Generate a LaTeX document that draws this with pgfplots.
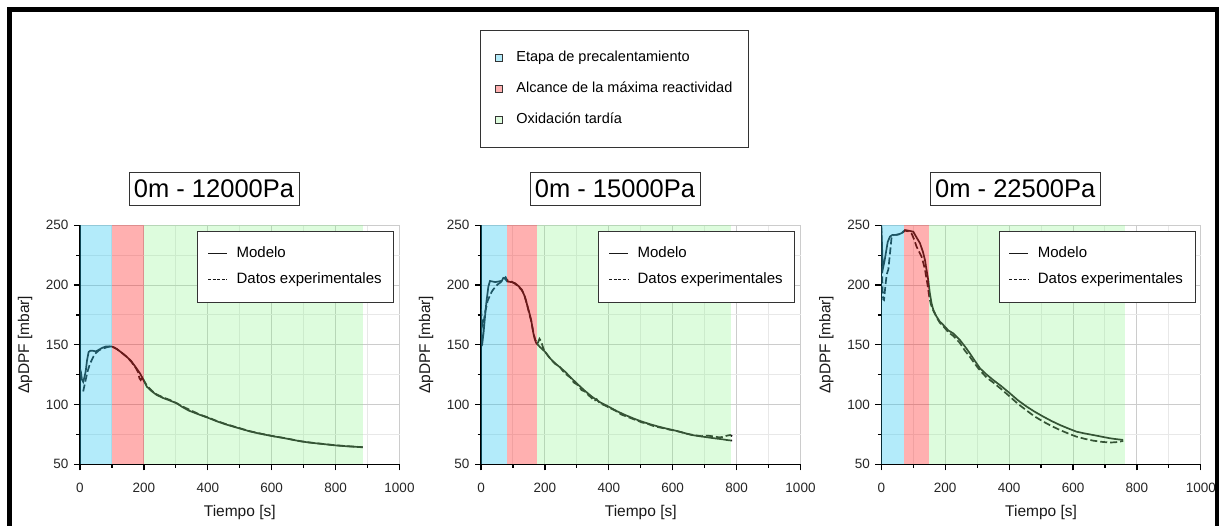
\documentclass[border=0pt]{standalone}
\usepackage{fontspec}
\setmainfont{Liberation Sans}
\usepackage{pgfplots}
\pgfplotsset{compat=1.18}

\definecolor{regblue}{RGB}{38,198,241}
\definecolor{regred}{RGB}{255,29,29}
\definecolor{reggreen}{RGB}{130,244,130}
\definecolor{appblue}{RGB}{179,235,250}
\definecolor{appred}{RGB}{255,176,176}
\definecolor{appgreen}{RGB}{221,252,221}

\pgfplotsset{
 dpfaxis/.style={
   scale only axis, width=319.5bp, height=239bp, anchor=south west,
   xmin=0, xmax=1000, ymin=50, ymax=250,
   xtick={0,200,...,1000}, minor xtick={100,300,...,900},
   ytick={50,100,...,250}, minor ytick={75,125,...,225},
   grid=both,
   major grid style={line width=1bp, color=black!20},
   minor grid style={line width=1bp, color=black!9},
   axis x line*=bottom, axis y line*=left,
   x axis line style={-}, y axis line style={-},
   axis line style={line width=1.5bp, black},
   tick style={line width=1.2bp, black},
   tick align=outside, major tick length=6bp, minor tick length=3.5bp,
   /pgf/number format/assume math mode=true,
   /pgf/number format/1000 sep={},
   tick label style={font=\fontsize{13.5bp}{15bp}\selectfont, text=black!85},
   xticklabel style={yshift=-9bp}, yticklabel style={xshift=-2bp},
   xlabel={Tiempo [s]}, ylabel={ΔpDPF [mbar]},
   label style={font=\fontsize{15.5bp}{18bp}\selectfont, text=black!90},
   xlabel style={at={(axis description cs:0.5,-0.2)}, anchor=center},
   ylabel style={at={(axis description cs:-0.172,0.5)}, anchor=center},
   title style={at={(axis description cs:0.4194,1.127)}, anchor=center, draw=black!80, fill=white, line width=0.8bp,
     font=\fontsize{25.5bp}{30bp}\selectfont, minimum height=33bp, inner xsep=5bp},
   legend style={at={(axis description cs:0.983,0.976)}, anchor=north east, draw=black!80, line width=0.8bp,
     font=\fontsize{15bp}{18bp}\selectfont, inner xsep=10bp, inner ysep=13.5bp, row sep=8bp, column sep=7bp,
     nodes={inner sep=2bp, text height=11bp, text depth=3bp}},
   legend cell align=left,
 },
 model/.style={black!90, line width=1.7bp, solid, no markers,
   legend image code/.code={\draw[black!90, line width=1bp] (0bp,0bp) -- (19bp,0bp);}},
 exper/.style={black!90, line width=1.7bp, dash pattern=on 7bp off 3bp, no markers,
   legend image code/.code={\draw[black!90, line width=1bp, dash pattern=on 3bp off 1.6bp] (0bp,0bp) -- (19bp,0bp);}},
 regb/.style={draw=none, fill=regblue, fill opacity=0.35, forget plot},
 regr/.style={draw=none, fill=regred, fill opacity=0.35, forget plot},
 regg/.style={draw=none, fill=reggreen, fill opacity=0.27, forget plot},
}

\begin{document}
\begin{tikzpicture}
\useasboundingbox (0bp,0bp) rectangle (1219bp,526bp);

% ---------------- panel 1 ----------------
\begin{axis}[dpfaxis, at={(80bp,61.7bp)}, title={0m - 12000Pa}]
\addplot[model] coordinates {
(0,130) (3,127) (6,121) (10,119) (14,123) (18,128) (22,137) (27,144) (32,145) (40,145) (50,144.5)
(60,146) (70,147.5) (80,148.5) (90,148.5) (100,148.5) (115,146.5) (130,143.5) (146,140) (160,136.5)
(175,131) (188,126) (200,120) (209,115) (225,111) (240,108) (260,105.5) (280,103.5) (303,101)
(320,98) (340,95) (376,91.3) (400,89) (428,86) (455,83.5) (480,81.5) (510,79.2) (532,77.5)
(560,75.8) (585,74.5) (610,73.2) (637,72) (660,70.8) (689,69.3) (715,68.3) (741,67.5) (770,66.7)
(793,66) (820,65.4) (846,64.9) (870,64.5) (885,64.2)};
\addlegendentry{Modelo}
\addplot[exper] coordinates {
(10,111) (14,116) (18,121) (24,128) (31,134) (40,139) (47,142.5) (60,145.5) (73,147) (85,148)
(99,149) (115,146.5) (130,143.5) (146,140) (160,136) (175,130.5) (182,127) (186,122) (190,120.5)
(195,123) (200,120) (209,116) (225,111.5) (240,108.5) (260,106) (280,104) (300,101.5) (320,98.5)
(340,96) (376,91.5) (400,89.3) (428,86.3) (455,83.8) (480,81.8) (510,79.4) (532,77.7) (560,76)
(585,74.6) (610,73.3) (637,72.1) (660,70.9) (689,69.4) (715,68.4) (741,67.6) (770,66.8) (793,66.1)
(820,65.5) (846,65) (870,64.6) (885,64.3)};
\addlegendentry{Datos experimentales}
\addplot[regb] coordinates {(0,50) (0,250) (100,250) (100,50)} -- cycle;
\addplot[regr] coordinates {(100,50) (100,250) (200,250) (200,50)} -- cycle;
\addplot[regg] coordinates {(200,50) (200,250) (887,250) (887,50)} -- cycle;
\end{axis}

% ---------------- panel 2 ----------------
\begin{axis}[dpfaxis, at={(481bp,61.7bp)}, title={0m - 15000Pa}]
\addplot[model] coordinates {
(0,174) (1,160) (2,152) (4,151) (8,160) (12.5,173.5) (17,186) (23,198.6) (28,203.4) (35,203)
(45,202.5) (55,203) (65,203.5) (70,206) (75,205.5) (82,203) (95,202.5) (107,201.5) (118,199)
(128,196) (136,191) (143,184.7) (150,178) (157,170.8) (164,159.6) (168,155) (172,151.8) (177,150.3)
(185,148) (200,144.3) (215,139) (232,134.5) (248,131) (263,127.5) (285,121.5) (305,116.4)
(325,111.5) (347,106.6) (372,102) (399,98.3) (425,94.5) (451,91.3) (478,88.3) (504,85.7)
(530,83.5) (556,81.5) (582,79.8) (608,78.2) (635,76.3) (660,74.5) (687,73.4) (713,72.4)
(735,71.6) (754,71) (770,70.3) (786,69.8)};
\addlegendentry{Modelo}
\addplot[exper] coordinates {
(0,180) (3,170) (6,166) (9,170) (12.5,177) (17,182) (21,187) (26,190) (30,192.5) (35,195)
(39,196.5) (45,198.5) (52,200.5) (60,202) (70,204.5) (77,206.5) (82,204) (95,203) (107,201)
(118,198.5) (128,195.5) (136,191.5) (143,185) (150,177) (157,170) (164,160) (170,154) (177,151)
(183,155) (188,153) (195,147) (205,142.5) (220,137.5) (232,134) (245,132) (255,128.5) (263,126)
(280,122.5) (290,118.5) (305,116) (315,112) (325,111) (340,107) (355,103) (362,104.5) (372,101)
(390,99) (400,97.5) (420,95) (440,91.5) (451,90.5) (470,88.5) (490,86.5) (504,85) (520,84)
(540,82) (556,81) (575,80) (590,79) (608,78.2) (625,77) (645,75.5) (665,74.5) (690,73.5)
(705,74) (715,73.8) (730,73.3) (745,72.5) (760,73) (770,74) (780,74.5) (786,73.5)};
\addlegendentry{Datos experimentales}
\addplot[regb] coordinates {(0,50) (0,250) (82,250) (82,50)} -- cycle;
\addplot[regr] coordinates {(82,50) (82,250) (175,250) (175,50)} -- cycle;
\addplot[regg] coordinates {(175,50) (175,250) (783,250) (783,50)} -- cycle;
\end{axis}

% ---------------- panel 3 ----------------
\begin{axis}[dpfaxis, at={(881.3bp,61.7bp)}, title={0m - 22500Pa}]
\addplot[model] coordinates {
(0,250) (2,235) (4,218) (6,215) (10,220) (15,228) (20,236) (27,240.5) (35,242) (45,242)
(55,242.5) (64,243.5) (74,246) (85,245.5) (100,244.7) (110,240) (121,235) (130,228) (136.6,221)
(142,212) (147,204) (152,193) (157,185) (163,179) (173,173.6) (183,169.5) (194,166.6) (210,162)
(225,159.6) (246,154) (262,148.5) (277,142.9) (293,136.5) (309,130.3) (330,125) (350,120.6)
(375,115.5) (402.5,109.4) (428,103.5) (455,98.3) (480,94) (507,89.9) (533,86.2) (559,82.9)
(585,80) (611,77.3) (637,75.8) (663,74.5) (690,73.1) (715,71.8) (737,71) (757,70.4)};
\addlegendentry{Modelo}
\addplot[exper] coordinates {
(0,249) (2,220) (4,195) (6,188) (8.5,187.5) (13,200) (17,209) (22,213) (27,226) (32.5,241)
(40,242) (48,242) (56,242.5) (64,243.3) (74,245.5) (85,245) (95,243) (103,238) (110.5,232)
(118,228) (126,223.8) (132,218) (137,212.6) (141,206) (144,201.5) (147,196) (150,190.3)
(155,184) (163,178.5) (173,173) (183,168.5) (194,165.5) (210,160.5) (225,157.5) (246,151.5)
(262,145) (277,140) (293,134) (309,128.5) (330,122.5) (350,118.5) (375,113) (402.5,106.6)
(428,100.5) (455,95) (480,90) (507,85.7) (533,82) (559,78.7) (585,75.8) (611,73.1) (637,71.3)
(663,69.8) (690,68.8) (715,68.2) (735,68.5) (757,69.5)};
\addlegendentry{Datos experimentales}
\addplot[regb] coordinates {(0,50) (0,250) (72,250) (72,50)} -- cycle;
\addplot[regr] coordinates {(72,50) (72,250) (149,250) (149,50)} -- cycle;
\addplot[regg] coordinates {(149,50) (149,250) (762,250) (762,50)} -- cycle;
\end{axis}

% ---------------- stage legend ----------------
\begin{axis}[at={(482bp,379bp)}, anchor=south west, scale only axis, width=265bp, height=117bp,
  hide axis, xmin=0, xmax=1, ymin=0, ymax=1,
  legend style={at={(0.5,0.5)}, anchor=center, draw=black!80, line width=0.8bp,
    font=\fontsize{14.5bp}{17bp}\selectfont, inner xsep=14bp, inner ysep=18.75bp,
    row sep=13.5bp, column sep=12bp,
    nodes={inner sep=2bp, text height=10.5bp, text depth=3bp}},
  legend cell align=left]
\addlegendimage{legend image code/.code={\draw[fill=appblue, draw=black!80, line width=0.8bp] (0bp,-3.5bp) rectangle (7bp,3.5bp);}}
\addlegendentry{Etapa de precalentamiento}
\addlegendimage{legend image code/.code={\draw[fill=appred, draw=black!80, line width=0.8bp] (0bp,-3.5bp) rectangle (7bp,3.5bp);}}
\addlegendentry{Alcance de la máxima reactividad}
\addlegendimage{legend image code/.code={\draw[fill=appgreen, draw=black!80, line width=0.8bp] (0bp,-3.5bp) rectangle (7bp,3.5bp);}}
\addlegendentry{Oxidación tardía}
\end{axis}

% outer frame
\draw[line width=5bp] (9.5bp,-10bp) -- (9.5bp,516.5bp) -- (1217bp,516.5bp) -- (1217bp,-10bp);
\end{tikzpicture}
\end{document}
